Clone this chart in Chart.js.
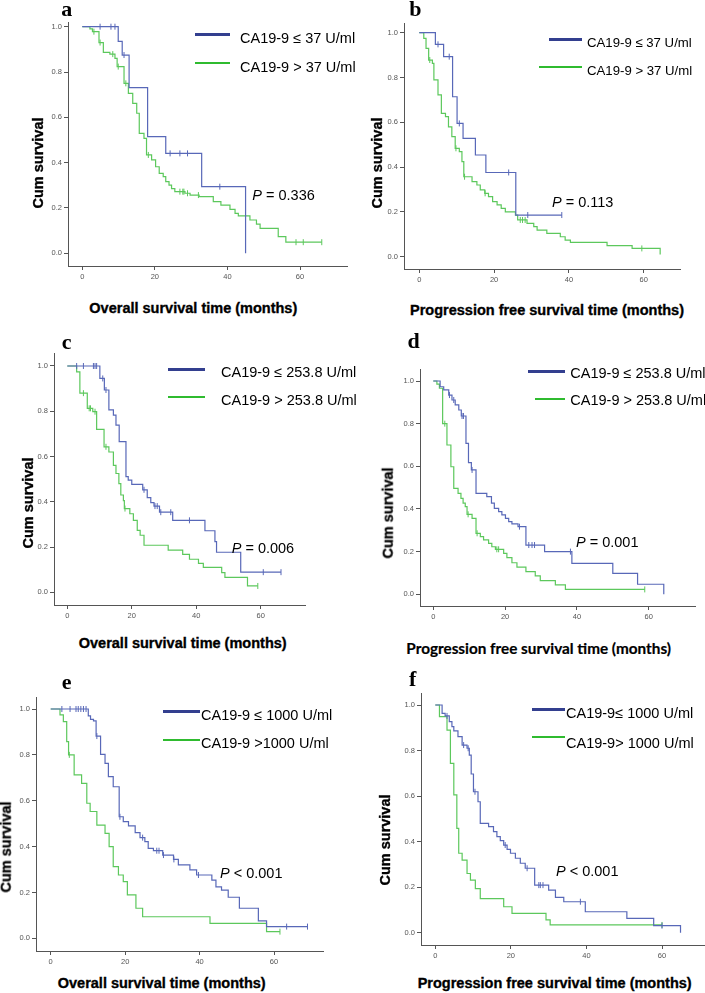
<!DOCTYPE html>
<html>
<head>
<meta charset="utf-8">
<script src="https://cdn.jsdelivr.net/npm/chart.js@4"></script>
<style>
    body {
        margin: 0;
        background: #fff;
    }
    #page {
        position: relative;
        width: 705px;
        height: 993px;
        overflow: hidden;
        font-family: "Liberation Sans", Arial, sans-serif;
    }
    canvas.km {
        position: absolute;
    }
    .txt {
        position: absolute;
        white-space: nowrap;
        color: #000;
        line-height: 1;
    }
    .letter {
        font-family: "Liberation Serif", serif;
        font-weight: bold;
        font-size: 22px;
    }
    .axis-title {
        font-weight: bold;
        font-size: 14.5px;
        -webkit-text-stroke: 0.35px #000;
        transform: translate(-50%, -50%);
    }
    .y-title {
        transform: translate(-50%, -50%) rotate(-90deg);
    }
    .legend-text, .p-text {
        font-size: 14.5px;
        transform: translateY(-50%);
    }
    .legend-line {
        position: absolute;
    }
</style>
</head>
<body>
<div id="page"></div>
<script>
// Kaplan-Meier curves for CA19-9 groups (six panels)

// shared tick labels
const survivalTicks = [0, 0.2, 0.4, 0.6, 0.8, 1.0];
const monthTicks = [0, 20, 40, 60];

// a - overall survival, 37 U/ml
const aLowTimes = [9.9, 11, 12.9, 18, 23, 32.9, 45];
const aLowSurv = [0.935, 0.875, 0.731, 0.515, 0.441, 0.294, 0];
const aLowCens = [4.9, 7.9, 9.0, 11.5, 24.2, 26.9, 29, 37.9];
const aHighTimes = [2.1, 2.8, 4.6, 5.8, 7.6, 9.0, 9.6, 11.5, 12.7, 13.9, 15.0, 15.7, 17.0, 17.7, 19.1, 20.2, 21.2, 22.3, 23.0, 23.9, 24.6, 25.5, 28.3, 29.7, 32.2, 36.1, 38.2, 40.7, 42.1, 43.0, 46.2, 48.0, 49.0, 54.0, 56.1];
const aHighSurv = [0.99, 0.978, 0.93, 0.887, 0.879, 0.86, 0.824, 0.75, 0.706, 0.662, 0.618, 0.529, 0.507, 0.434, 0.412, 0.382, 0.353, 0.338, 0.316, 0.301, 0.285, 0.272, 0.265, 0.257, 0.25, 0.228, 0.213, 0.194, 0.176, 0.165, 0.147, 0.129, 0.11, 0.074, 0.049];
const aHighCens = [3.2, 4.9, 8.4, 9.9, 12.0, 18.2, 26.9, 27.7, 28.0, 29.0, 32.0, 58.9, 60.9, 66.0];

// b - progression free survival, 37 U/ml
const bLowTimes = [4.3, 6.5, 8.9, 10.1, 11.7, 15.0, 17.8, 25.8];
const bLowSurv = [0.948, 0.893, 0.714, 0.595, 0.528, 0.454, 0.376, 0.186];
const bLowCens = [5.0, 8.0, 10.7, 23.9, 29.0, 38.1];
const bHighTimes = [1.2, 1.8, 2.5, 3.5, 3.9, 5.0, 5.9, 7.0, 7.8, 8.7, 9.6, 10.7, 11.4, 11.9, 14.1, 15.4, 16.3, 17.5, 18.5, 19.6, 20.8, 21.9, 23.0, 25.7, 26.3, 28.8, 30.6, 31.5, 34.1, 37.7, 39.0, 40.4, 50.2, 56.9, 64.4];
const bHighSurv = [0.975, 0.93, 0.878, 0.863, 0.789, 0.722, 0.64, 0.625, 0.58, 0.536, 0.484, 0.469, 0.424, 0.357, 0.335, 0.32, 0.298, 0.283, 0.268, 0.246, 0.231, 0.216, 0.2, 0.186, 0.164, 0.149, 0.134, 0.119, 0.104, 0.089, 0.074, 0.064, 0.049, 0.037, 0.01];
const bHighCens = [2.8, 9.8, 12.1, 17.6, 27.0, 27.6, 28.3, 59.5];

// c - overall survival, 253.8 U/ml
const cLowTimes = [10.1, 11.5, 12.9, 14.3, 15.1, 16.1, 18.2, 18.9, 20.0, 23.4, 24.8, 25.9, 26.9, 28.6, 32.7, 42.7, 45.8, 46.3, 53.8];
const cLowSurv = [0.945, 0.894, 0.806, 0.783, 0.739, 0.666, 0.511, 0.496, 0.477, 0.453, 0.418, 0.396, 0.381, 0.354, 0.318, 0.272, 0.224, 0.177, 0.089];
const cLowCens = [2.9, 5.0, 8.1, 8.6, 9.1, 11.0, 12.0, 23.8, 27.2, 27.9, 29.0, 32.1, 37.9, 60.8, 66.3];
const cHighTimes = [2.9, 3.9, 6.2, 7.9, 9.1, 11.4, 12.9, 14.3, 15.1, 16.0, 16.6, 17.4, 17.7, 19.4, 20.5, 21.7, 22.6, 23.8, 31.3, 35.8, 37.9, 40.7, 42.2, 47.9, 48.9, 55.9];
const cHighSurv = [0.974, 0.88, 0.813, 0.798, 0.72, 0.643, 0.62, 0.561, 0.525, 0.48, 0.43, 0.405, 0.37, 0.347, 0.318, 0.274, 0.252, 0.208, 0.186, 0.168, 0.146, 0.128, 0.11, 0.087, 0.066, 0.028];
const cHighCens = [5.0, 6.8, 7.2, 8.6, 12.0, 17.9, 59.1];

// d - progression free survival, 253.8 U/ml
const dLowTimes = [1.9, 2.9, 4.3, 5.2, 6.1, 7.1, 7.8, 9.1, 9.8, 10.6, 11.9, 14.9, 16.2, 17.0, 18.2, 19.1, 20.1, 21.0, 21.9, 23.6, 25.8, 31.0, 38.6, 50.0, 56.9, 64.2];
const dLowSurv = [0.973, 0.958, 0.934, 0.911, 0.888, 0.864, 0.836, 0.708, 0.617, 0.583, 0.473, 0.458, 0.427, 0.403, 0.388, 0.372, 0.356, 0.341, 0.33, 0.317, 0.231, 0.2, 0.145, 0.098, 0.047, 0];
const dLowCens = [4.5, 5.7, 8.0, 8.4, 10.8, 24.0, 26.6, 27.5, 28.2, 38.2];
const dHighTimes = [1.0, 1.7, 2.6, 3.8, 4.9, 5.7, 6.9, 7.7, 8.3, 8.9, 9.4, 10.8, 11.9, 13.1, 14.0, 15.4, 16.3, 17.3, 19.6, 20.5, 21.9, 23.3, 25.8, 28.4, 29.8, 34.0, 36.8];
const dHighSurv = [0.985, 0.966, 0.8, 0.7, 0.598, 0.497, 0.473, 0.45, 0.427, 0.411, 0.375, 0.356, 0.286, 0.27, 0.255, 0.239, 0.223, 0.211, 0.192, 0.172, 0.148, 0.127, 0.106, 0.086, 0.064, 0.044, 0.023];
const dHighCens = [3.2, 9.7, 12.2, 17.7, 18.2, 58.9];

// e - overall survival, 1000 U/ml
const eLowTimes = [10.1, 10.7, 11.5, 12.2, 13.4, 14.6, 15.5, 16.8, 18.4, 19.5, 20.9, 22.7, 24.0, 25.3, 26.2, 27.6, 30.1, 33.0, 34.3, 37.4, 39.2, 43.3, 44.4, 45.9, 47.7, 50.7, 55.8, 58.0];
const eLowSurv = [0.97, 0.955, 0.948, 0.882, 0.802, 0.763, 0.705, 0.661, 0.53, 0.509, 0.49, 0.461, 0.439, 0.422, 0.392, 0.382, 0.363, 0.344, 0.32, 0.298, 0.276, 0.254, 0.224, 0.21, 0.179, 0.131, 0.076, 0.051];
const eLowCens = [3.0, 5.2, 6.8, 7.4, 8.1, 8.8, 9.5, 12.4, 18.6, 24.7, 28.5, 29.1, 30.3, 33.1, 39.7, 63.4, 69.0];
const eHighTimes = [2.5, 3.4, 4.3, 4.8, 6.3, 8.3, 9.7, 10.6, 12.4, 14.6, 15.7, 16.8, 18.2, 19.5, 20.6, 22.9, 24.7, 42.8, 58.0];
const eHighSurv = [0.974, 0.945, 0.858, 0.8, 0.713, 0.676, 0.589, 0.553, 0.494, 0.458, 0.4, 0.313, 0.276, 0.247, 0.189, 0.131, 0.094, 0.065, 0.029];
const eHighCens = [5.0, 61.6];

// f - progression free survival, 1000 U/ml
const fLowTimes = [1.8, 2.6, 3.7, 4.4, 4.9, 6.0, 7.1, 8.4, 9.0, 9.5, 10.1, 11.3, 11.9, 14.1, 15.4, 16.3, 17.2, 18.1, 19.0, 19.9, 21.2, 22.5, 23.8, 26.3, 30.0, 31.8, 34.0, 39.7, 50.7, 57.8, 64.9];
const fLowSurv = [0.963, 0.952, 0.927, 0.905, 0.886, 0.861, 0.824, 0.81, 0.78, 0.697, 0.619, 0.575, 0.48, 0.466, 0.444, 0.422, 0.404, 0.385, 0.366, 0.349, 0.327, 0.305, 0.283, 0.209, 0.187, 0.155, 0.136, 0.092, 0.063, 0.031, 0];
const fLowCens = [3.1, 7.5, 8.7, 10.5, 18.5, 24.3, 27.4, 27.8, 28.5, 38.4, 60.0];
const fHighTimes = [1.1, 3.1, 4.0, 4.9, 5.7, 6.2, 7.1, 8.4, 9.3, 10.6, 11.9, 18.1, 20.3, 29.3, 30.4];
const fHighSurv = [0.949, 0.89, 0.744, 0.605, 0.458, 0.349, 0.319, 0.26, 0.231, 0.194, 0.15, 0.114, 0.085, 0.056, 0.034];
const fHighCens = [60.0];

// labels
const panelLetters = ['a', 'b', 'c', 'd', 'e', 'f'];
const legendLabels = [
    ['CA19-9 \u2264 37 U/ml', 'CA19-9 > 37 U/ml'],
    ['CA19-9 \u2264 37 U/ml', 'CA19-9 > 37 U/ml'],
    ['CA19-9 \u2264 253.8 U/ml', 'CA19-9 > 253.8 U/ml'],
    ['CA19-9 \u2264 253.8 U/ml', 'CA19-9 > 253.8 U/ml'],
    ['CA19-9 \u2264 1000 U/ml', 'CA19-9 >1000 U/ml'],
    ['CA19-9\u2264 1000 U/ml', 'CA19-9> 1000 U/ml']
];
const pValues = ['= 0.336', '= 0.113', '= 0.006', '= 0.001', '< 0.001', '< 0.001'];
const xTitles = [
    'Overall survival time (months)',
    'Progression free survival time (months)',
    'Overall survival time (months)',
    'Progression free survival time (months)',
    'Overall survival time (months)',
    'Progression free survival time (months)'
];
const yTitle = 'Cum survival';

// colours
const blueLine = '#5868b8';
const greenLine = '#5cc85c';
const blueKey = '#333f8f';
const greenKey = '#2fbb2f';
const axisColor = '#555';

// page layout of each panel (pixels)
const layouts = [
    { box: [68, 22, 347, 266], x0: 82.3, x60: 300, y1: 26.7, y0: 253.3,
      letter: [66.7, 16.7], yTitle: [38.3, 163.3], xTitle: [193.3, 308.3],
      keyX: [[195, 230], [195, 230]], keyY: [34, 63.3], textX: 240, textY: [38, 67], textSize: 14.5, p: [252.3, 195] },
    { box: [404, 23, 680, 269], x0: 419.3, x60: 643.7, y1: 32.7, y0: 256.7,
      letter: [415.3, 16], yTitle: [377, 163.3], xTitle: [547, 310],
      keyX: [[548.7, 582], [538.7, 582]], keyY: [39, 66.7], textX: 587, textY: [42.7, 71], textSize: 13.2, p: [552, 202.3] },
    { box: [54, 353, 305, 605], x0: 67.3, x60: 260.7, y1: 366, y0: 592.3,
      letter: [66.7, 349], yTitle: [28.3, 503.3], xTitle: [182.7, 643.3],
      keyX: [[168, 205], [168, 205]], keyY: [369.3, 396.7], textX: 221, textY: [372, 400], textSize: 14.5, p: [231.7, 548.3] },
    { box: [420, 369, 695, 606], x0: 433.3, x60: 648.7, y1: 381, y0: 594.3,
      letter: [413.7, 348.3], yTitle: [388, 513.3], xTitle: [538.7, 649.3], xTitleFont: 'Lato', xTitleSize: 15.3,
      keyX: [[528, 565.3], [534.7, 565.3]], keyY: [371.7, 399], textX: 570.3, textY: [373, 400], textSize: 14.5, p: [576, 541.7] },
    { box: [36, 697, 323, 951], x0: 50.7, x60: 274, y1: 709, y0: 938.3,
      letter: [66.7, 689], yTitle: [6, 846.7], xTitle: [161.7, 983.3],
      keyX: [[162.7, 200], [162.7, 200]], keyY: [711.7, 740], textX: 201, textY: [715, 743.3], textSize: 14.5, p: [220, 873.3] },
    { box: [421, 693, 704, 945], x0: 435.3, x60: 662, y1: 705, y0: 932.7,
      letter: [412.7, 686], yTitle: [385.3, 840], xTitle: [554.7, 982.7],
      keyX: [[532, 565.3], [532, 565.3]], keyY: [709.3, 737.3], textX: 566, textY: [713.3, 742.7], textSize: 14.5, p: [556, 870.7] }
];

const groupsByPanel = [
    [[aLowTimes, aLowSurv, aLowCens], [aHighTimes, aHighSurv, aHighCens]],
    [[bLowTimes, bLowSurv, bLowCens], [bHighTimes, bHighSurv, bHighCens]],
    [[cLowTimes, cLowSurv, cLowCens], [cHighTimes, cHighSurv, cHighCens]],
    [[dLowTimes, dLowSurv, dLowCens], [dHighTimes, dHighSurv, dHighCens]],
    [[eLowTimes, eLowSurv, eLowCens], [eHighTimes, eHighSurv, eHighCens]],
    [[fLowTimes, fLowSurv, fLowCens], [fHighTimes, fHighSurv, fHighCens]]
];

const page = document.getElementById('page');

// step points + censor marks for one group
function kmCurve(times, surv, cens) {
    const line = [{ x: 0, y: 1 }];
    times.forEach((t, i) => line.push({ x: t, y: surv[i] }));
    const lastT = times[times.length - 1];
    const lastC = cens.length ? Math.max(...cens) : 0;
    if (lastC > lastT) line.push({ x: lastC, y: surv[surv.length - 1] });
    const marks = cens.map(c => {
        let y = 1;
        times.forEach((t, i) => { if (t <= c) y = surv[i]; });
        return { x: c, y: y };
    });
    return { line, marks };
}

function addText(cls, text, x, y, style) {
    const el = document.createElement('div');
    el.className = 'txt ' + cls;
    el.innerHTML = text;
    el.style.left = x + 'px';
    el.style.top = y + 'px';
    Object.assign(el.style, style || {});
    page.appendChild(el);
    return el;
}

function drawPanel(idx) {
    const p = layouts[idx];
    const [L, T, R, B] = p.box;
    const yW = 30, xH = 22, padT = 8, padR = 8;

    const canvas = document.createElement('canvas');
    canvas.className = 'km';
    canvas.width = R - L + yW + padR;
    canvas.height = B - T + padT + xH;
    canvas.style.left = (L - yW) + 'px';
    canvas.style.top = (T - padT) + 'px';
    page.appendChild(canvas);

    const pxMonth = (p.x60 - p.x0) / 60;
    const pxUnit = p.y0 - p.y1;
    const colors = [blueLine, greenLine];

    const datasets = [];
    groupsByPanel[idx].forEach((g, k) => {
        const km = kmCurve(g[0], g[1], g[2]);
        datasets.push({
            data: km.line,
            showLine: true,
            stepped: 'before',
            borderColor: colors[k],
            borderWidth: 1.2,
            pointRadius: 0,
            clip: false
        });
        datasets.push({
            data: km.marks,
            showLine: false,
            pointStyle: 'line',
            pointRotation: 90,
            pointRadius: 3,
            pointBorderColor: colors[k],
            pointBorderWidth: 1,
            clip: false
        });
    });

    const tickFont = { family: 'Liberation Sans', size: 7.5 };
    const grid = { drawOnChartArea: false, drawTicks: true, tickLength: 4, color: axisColor, lineWidth: 1 };
    const border = { display: true, color: axisColor, width: 1 };

    new Chart(canvas, {
        type: 'scatter',
        data: { datasets: datasets },
        options: {
            responsive: false,
            animation: false,
            devicePixelRatio: 1,
            layout: { padding: { top: padT, right: padR, left: 0, bottom: 0 } },
            plugins: {
                legend: { display: false },
                tooltip: { enabled: false }
            },
            scales: {
                x: {
                    type: 'linear',
                    min: (L - p.x0) / pxMonth,
                    max: (R - p.x0) / pxMonth,
                    afterBuildTicks: s => { s.ticks = monthTicks.map(v => ({ value: v })); },
                    afterFit: s => { s.height = xH; },
                    ticks: { autoSkip: false, maxRotation: 0, padding: 2, color: axisColor, font: tickFont, callback: v => v },
                    grid: grid,
                    border: border
                },
                y: {
                    type: 'linear',
                    min: (p.y0 - B) / pxUnit,
                    max: (p.y0 - T) / pxUnit,
                    afterBuildTicks: s => { s.ticks = survivalTicks.map(v => ({ value: v })); },
                    afterFit: s => { s.width = yW; },
                    ticks: { autoSkip: false, padding: 2, color: axisColor, font: tickFont, callback: v => v.toFixed(1) },
                    grid: grid,
                    border: border
                }
            }
        }
    });

    // panel letter (baseline placed)
    addText('letter', panelLetters[idx], p.letter[0], p.letter[1] - 18.4, { transform: 'translateX(-50%)' });

    // axis titles
    addText('axis-title y-title', yTitle, p.yTitle[0], p.yTitle[1]);
    const xt = addText('axis-title', xTitles[idx], p.xTitle[0], p.xTitle[1]);
    if (p.xTitleFont) {
        xt.style.fontFamily = p.xTitleFont;
        xt.style.fontSize = p.xTitleSize + 'px';
        xt.style.webkitTextStroke = '0.2px #000';
    }

    // legend keys
    [blueKey, greenKey].forEach((c, k) => {
        const h = k === 0 ? 3 : 2;
        const line = document.createElement('div');
        line.className = 'legend-line';
        line.style.left = p.keyX[k][0] + 'px';
        line.style.width = (p.keyX[k][1] - p.keyX[k][0]) + 'px';
        line.style.top = (p.keyY[k] - h / 2) + 'px';
        line.style.height = h + 'px';
        line.style.background = c;
        page.appendChild(line);
        addText('legend-text', legendLabels[idx][k], p.textX, p.textY[k], { fontSize: p.textSize + 'px' });
    });

    // p value
    addText('p-text', '<i>P</i> ' + pValues[idx], p.p[0], p.p[1]);
}

layouts.forEach((p, i) => drawPanel(i));
</script>
</body>
</html>
